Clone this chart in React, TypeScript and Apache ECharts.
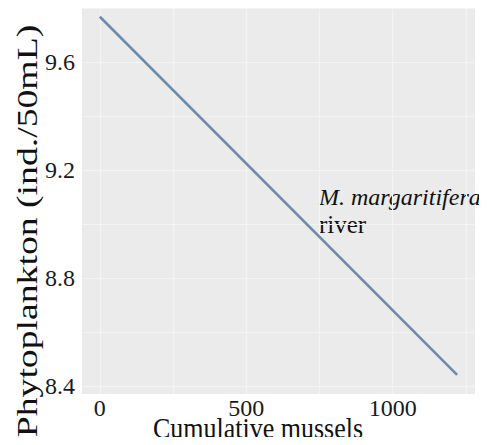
import React, { useEffect, useRef } from "react";
import * as echarts from "echarts";

const musselsX = [0, 1220];
const phytoY = [9.767, 8.441];
const xTicks = [0, 500, 1000];
const xGrid = [0, 250, 500, 750, 1000, 1250];
const yTicks = [8.4, 8.8, 9.2, 9.6];
const yGrid = [8.4, 8.6, 8.8, 9.0, 9.2, 9.4, 9.6, 9.8];
const xTitle = "Cumulative mussels";
const yTitle = "Phytoplankton (ind./50mL)";
const noteLine1 = "M. margaritifera";
const noteLine2 = "river";

const SERIF = "Liberation Serif, Times New Roman, serif";

export default function App() {
  const ref = useRef<HTMLDivElement>(null);
  useEffect(() => {
    if (!ref.current) return;
    const chart = echarts.init(ref.current, undefined, { renderer: "svg" });
    const data = musselsX.map((x, i) => [x, phytoY[i]]);
    chart.setOption({
      animation: false,
      backgroundColor: "#ffffff",
      textStyle: { fontFamily: SERIF },
      grid: { left: 82, right: 12, top: 3, bottom: 51, show: true, backgroundColor: "#EBEBEB", borderWidth: 0 },
      xAxis: {
        type: "value",
        min: -61,
        max: 1281,
        axisLine: { show: false },
        axisTick: { show: false, customValues: xGrid },
        splitLine: { show: true, lineStyle: { color: "#F3F3F3", width: 1.2 } },
        axisLabel: {
          margin: 2,
          fontFamily: SERIF,
          fontSize: 24,
          color: "#1a1a1a",
          customValues: xTicks,
          formatter: (v: number) => String(v),
        },
      },
      yAxis: {
        type: "value",
        min: 8.37,
        max: 9.818,
        axisLine: { show: false },
        axisTick: { show: false, customValues: yGrid },
        splitLine: { show: true, lineStyle: { color: "#F3F3F3", width: 1.2 } },
        axisLabel: {
          margin: 7,
          fontFamily: SERIF,
          fontSize: 24,
          color: "#1a1a1a",
          customValues: yTicks,
          formatter: (v: number) => v.toFixed(1),
        },
      },
      series: [
        {
          type: "line",
          data,
          symbol: "none",
          lineStyle: { color: "#6E8BAA", width: 2.6 },
        },
      ],
      graphic: [
        {
          type: "text",
          x: 27,
          y: 231,
          rotation: Math.PI / 2,
          scaleX: 1.3,
          style: {
            text: yTitle,
            fontFamily: SERIF,
            fontSize: 29,
            fill: "#111",
            align: "center",
            verticalAlign: "middle",
          },
        },
        {
          type: "text",
          x: 258,
          y: 428,
          scaleY: 1.12,
          style: {
            text: xTitle,
            fontFamily: SERIF,
            fontSize: 26,
            fill: "#111",
            align: "center",
            verticalAlign: "middle",
          },
        },
        {
          type: "text",
          x: 319,
          y: 197,
          style: {
            text: noteLine1,
            fontFamily: SERIF,
            fontStyle: "italic",
            fontSize: 24,
            fill: "#111",
            align: "left",
            verticalAlign: "middle",
          },
        },
        {
          type: "text",
          x: 319,
          y: 224,
          style: {
            text: noteLine2,
            fontFamily: SERIF,
            fontSize: 25,
            fill: "#111",
            align: "left",
            verticalAlign: "middle",
          },
        },
      ],
    });
    return () => chart.dispose();
  }, []);
  return <div ref={ref} style={{ width: 487, height: 445, margin: -8 }} />;
}
